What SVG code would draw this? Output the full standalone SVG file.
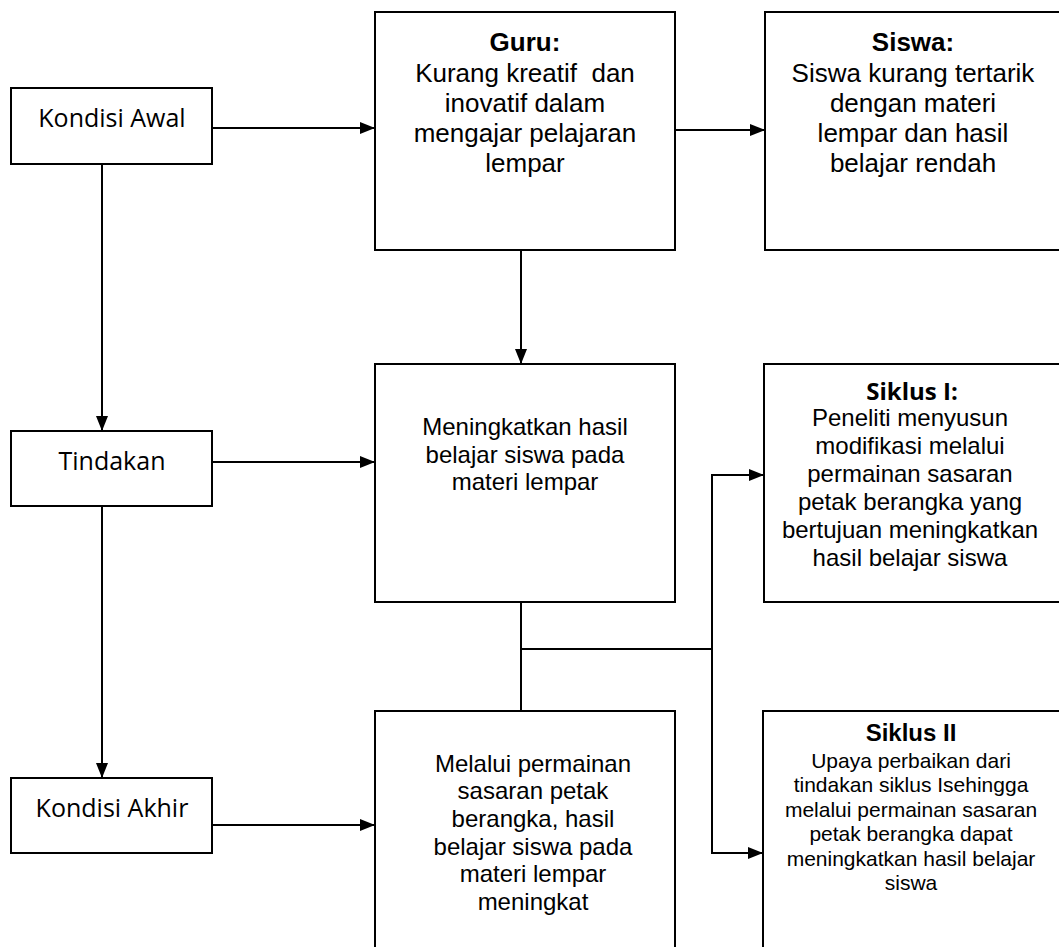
<svg xmlns="http://www.w3.org/2000/svg" width="1059" height="947" viewBox="0 0 1059 947">
<defs>
<style>
.box{fill:#fff;stroke:#000;stroke-width:2}
.ln{fill:none;stroke:#000;stroke-width:2}
.lbl{font-family:"Open Sans","Noto Sans",sans-serif;font-size:25px;fill:#000;text-anchor:middle}
.t{font-family:"Liberation Sans",Arial,sans-serif;fill:#000;text-anchor:middle}
.big{font-size:26px}
.mid{font-size:24px}
.sm{font-size:21px}
.b{font-weight:bold}
.hd{font-family:"Open Sans","Noto Sans",sans-serif;font-weight:bold;font-size:24px;fill:#000;text-anchor:middle}
</style>
<marker id="ah" markerUnits="userSpaceOnUse" markerWidth="16" markerHeight="14" refX="15" refY="6" orient="auto">
<path d="M0,0 L15,6 L0,12 z" fill="#000"/>
</marker>
</defs>
<rect width="1059" height="947" fill="#fff"/>
<g id="connectors">
<line class="ln" x1="212" y1="128" x2="375" y2="128" marker-end="url(#ah)"/>
<line class="ln" x1="675" y1="130" x2="765" y2="130" marker-end="url(#ah)"/>
<line class="ln" x1="102" y1="164" x2="102" y2="431" marker-end="url(#ah)"/>
<line class="ln" x1="212" y1="462" x2="375" y2="462" marker-end="url(#ah)"/>
<line class="ln" x1="521" y1="250" x2="521" y2="364" marker-end="url(#ah)"/>
<line class="ln" x1="102" y1="506" x2="102" y2="778" marker-end="url(#ah)"/>
<line class="ln" x1="212" y1="825" x2="375" y2="825" marker-end="url(#ah)"/>
<line class="ln" x1="521" y1="602" x2="521" y2="711"/>
<line class="ln" x1="520" y1="649" x2="713" y2="649"/>
<line class="ln" x1="712" y1="474" x2="712" y2="854"/>
<line class="ln" x1="711" y1="475" x2="764" y2="475" marker-end="url(#ah)"/>
<line class="ln" x1="711" y1="853" x2="763" y2="853" marker-end="url(#ah)"/>
</g>
<g id="kondisi-awal">
<rect class="box" x="11" y="88" width="201" height="76"/>
<text class="lbl" x="112" y="127">Kondisi Awal</text>
</g>
<g id="tindakan">
<rect class="box" x="11" y="431" width="201" height="75"/>
<text class="lbl" x="112" y="470">Tindakan</text>
</g>
<g id="kondisi-akhir">
<rect class="box" x="11" y="778" width="201" height="75"/>
<text class="lbl" x="112" y="817">Kondisi Akhir</text>
</g>
<g id="guru">
<rect class="box" x="375" y="12" width="300" height="238"/>
<text class="t big b" x="525" y="51">Guru:</text>
<text class="t big" x="525" y="82" style="white-space:pre">Kurang kreatif  dan</text>
<text class="t big" x="525" y="112">inovatif dalam</text>
<text class="t big" x="525" y="142">mengajar pelajaran</text>
<text class="t big" x="525" y="172">lempar</text>
</g>
<g id="siswa">
<rect class="box" x="765" y="12" width="300" height="238"/>
<text class="t big b" x="913" y="51">Siswa:</text>
<text class="t big" x="913" y="82">Siswa kurang tertarik</text>
<text class="t big" x="913" y="112">dengan materi</text>
<text class="t big" x="913" y="142">lempar dan hasil</text>
<text class="t big" x="913" y="172">belajar rendah</text>
</g>
<g id="meningkatkan">
<rect class="box" x="375" y="364" width="300" height="238"/>
<text class="t mid" x="525" y="435">Meningkatkan hasil</text>
<text class="t mid" x="525" y="463">belajar siswa pada</text>
<text class="t mid" x="525" y="490">materi lempar</text>
</g>
<g id="siklus-1">
<rect class="box" x="764" y="364" width="300" height="238"/>
<text class="hd" x="912" y="400">Siklus I:</text>
<text class="t mid" x="910" y="426">Peneliti menyusun</text>
<text class="t mid" x="910" y="454">modifikasi melalui</text>
<text class="t mid" x="910" y="482">permainan sasaran</text>
<text class="t mid" x="910" y="510">petak berangka yang</text>
<text class="t mid" x="910" y="538">bertujuan meningkatkan</text>
<text class="t mid" x="910" y="566">hasil belajar siswa</text>
</g>
<g id="melalui">
<rect class="box" x="375" y="711" width="300" height="300"/>
<text class="t mid" x="533" y="772">Melalui permainan</text>
<text class="t mid" x="533" y="799">sasaran petak</text>
<text class="t mid" x="533" y="827">berangka, hasil</text>
<text class="t mid" x="533" y="855">belajar siswa pada</text>
<text class="t mid" x="533" y="882">materi lempar</text>
<text class="t mid" x="533" y="910">meningkat</text>
</g>
<g id="siklus-2">
<rect class="box" x="763" y="711" width="300" height="300"/>
<text class="t b" style="font-size:24px" x="911" y="741">Siklus II</text>
<text class="t sm" x="911" y="768">Upaya perbaikan dari</text>
<text class="t sm" x="911" y="792">tindakan siklus Isehingga</text>
<text class="t sm" x="911" y="817">melalui permainan sasaran</text>
<text class="t sm" x="911" y="841">petak berangka dapat</text>
<text class="t sm" x="911" y="866">meningkatkan hasil belajar</text>
<text class="t sm" x="911" y="890">siswa</text>
</g>
</svg>
